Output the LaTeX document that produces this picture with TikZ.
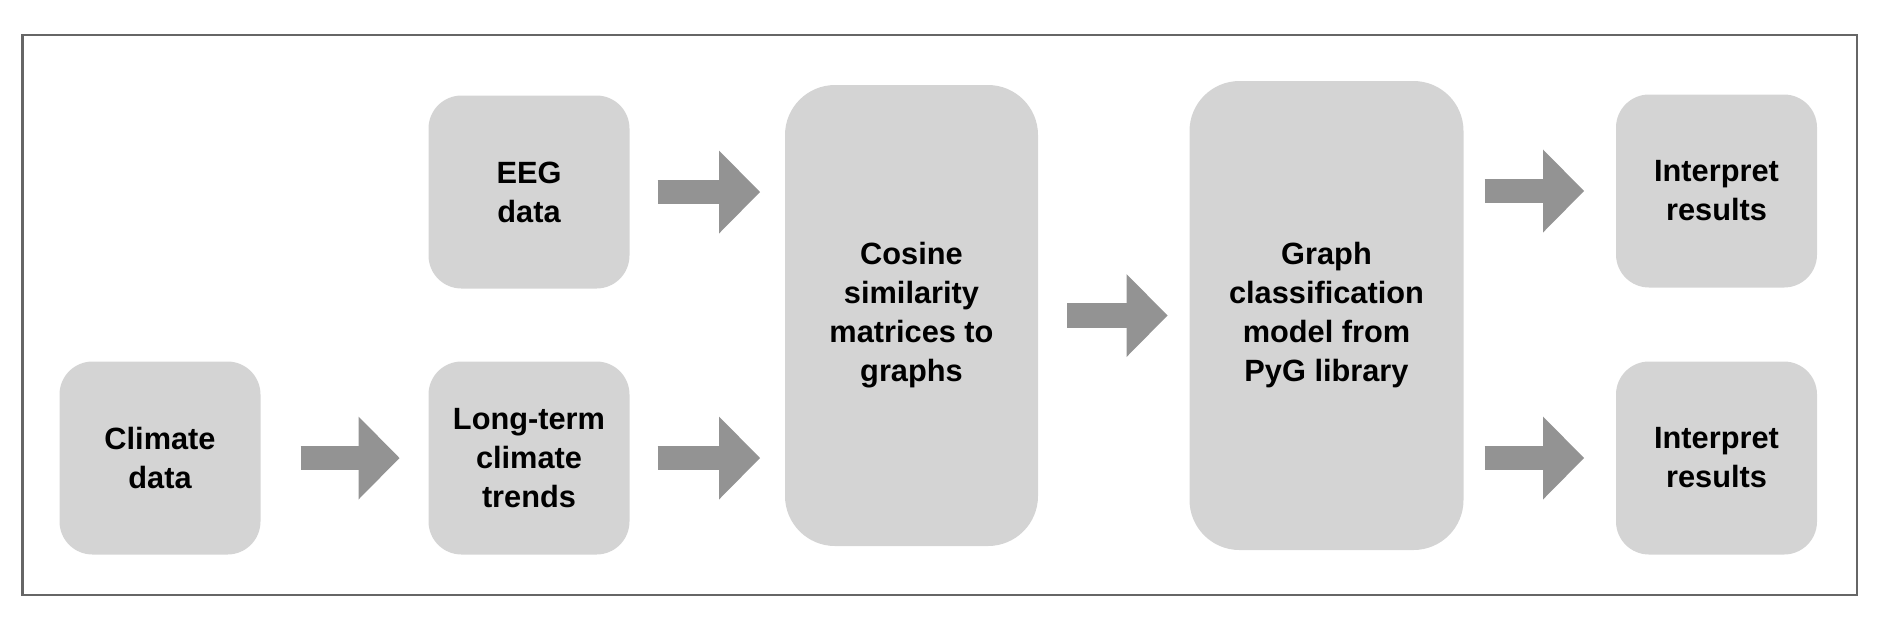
\documentclass[tikz,border=0pt]{standalone}
\usepackage{fontspec}
\setmainfont{Liberation Sans}
\usetikzlibrary{arrows.meta,positioning}

\definecolor{boxgray}{HTML}{D4D4D4}
\definecolor{arrowgray}{HTML}{939393}
\definecolor{framegray}{HTML}{666666}

\begin{document}
\begin{tikzpicture}[x=0.1mm,y=-0.1mm,
  box/.style={fill=boxgray,rounded corners=3.3mm,minimum width=20.1mm,minimum height=19.3mm,
    align=center,inner sep=0pt,outer sep=0pt,font=\bfseries\fontsize{8.75}{11.1}\selectfont},
  big box/.style={box,rounded corners=5mm},
  fat arrow/.style={draw=arrowgray,line width=2.46mm,
    -{Triangle[length=4.1mm,width=8.3mm,line width=0pt]}}]

  \useasboundingbox (0,0) rectangle (1880,622);
  \draw[framegray,line width=0.25mm] (22.5,35) rectangle (1857,595);

  \node[box] (clim) at (160,458) {Climate\\data};
  \node[box] (trend) [right=16.8mm of clim] {Long-term\\climate\\trends};
  \node[box] (eeg) [above=7.3mm of trend] {EEG\\data};
  \node[big box,minimum width=25.3mm,minimum height=46.1mm] (cos) at (911.5,315.5)
    {Cosine\\similarity\\matrices to\\graphs};
  \node[big box,minimum width=27.4mm,minimum height=46.9mm] (gcm) at (1326.5,315.5)
    {Graph\\classification\\model from\\PyG library};
  \node[box] (res1) at (1716.5,191) {Interpret\\results};
  \node[box] (res2) at (1716.5,458) {Interpret\\results};

  \draw[fat arrow,shorten <=4mm,shorten >=2.9mm] (clim) -- (trend);
  \draw[fat arrow,shorten <=2.8mm,shorten >=2.5mm] (eeg.east) -- (eeg.east -| cos.west);
  \draw[fat arrow,shorten <=2.8mm,shorten >=2.5mm] (trend.east) -- (trend.east -| cos.west);
  \draw[fat arrow,shorten <=2.9mm,shorten >=2.2mm] (cos) -- (gcm);
  \draw[fat arrow,shorten <=2.1mm,shorten >=3.2mm] (res1.west -| gcm.east) -- (res1);
  \draw[fat arrow,shorten <=2.1mm,shorten >=3.2mm] (res2.west -| gcm.east) -- (res2);
\end{tikzpicture}
\end{document}
